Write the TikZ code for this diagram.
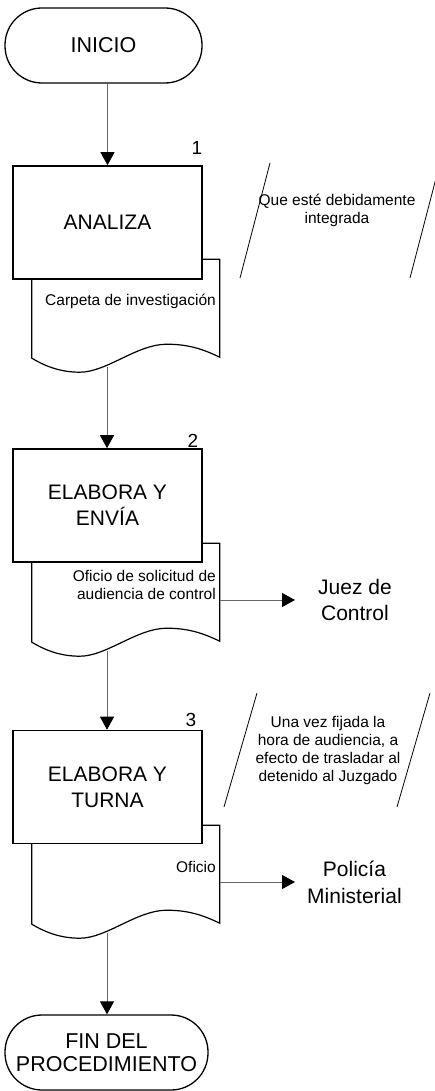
\documentclass[tikz,border=0pt]{standalone}
\usepackage{fontspec}
\setmainfont{Liberation Sans}
\usetikzlibrary{arrows.meta}

\tikzset{
  terminal/.style={draw, line width=1.3pt, rectangle, rounded corners=37pt,
    minimum width=#1, minimum height=75pt, inner sep=0pt, align=center,
    font=\fontsize{21.5}{23}\selectfont},
  terminal/.default=197pt,
  proceso/.style={draw, line width=1.6pt, fill=white, minimum width=189pt,
    minimum height=113pt, inner sep=0pt, align=center,
    font=\fontsize{21}{26}\selectfont},
  docnodo/.style={minimum width=188pt, minimum height=114pt, inner sep=0pt},
  documento/.style={draw, line width=1.2pt, fill=white},
  textodoc/.style={align=right, inner sep=0pt, font=\fontsize{15.5}{18}\selectfont},
  nota/.style={align=center, inner sep=0pt, font=\fontsize{15.5}{18}\selectfont},
  numero/.style={inner sep=0pt, font=\fontsize{19}{19}\selectfont},
  destino/.style={align=center, inner ysep=0pt, font=\fontsize{21}{26}\selectfont},
  flecha/.style={draw=black!60, line width=0.9pt,
    -{Triangle[width=14pt,length=13pt,color=black,fill=black]}},
  corchete/.style={draw, line width=0.8pt}
}

% outline of a document shape, from its node
\newcommand{\formadoc}[1]{%
  \begin{scope}[shift={(#1.south west)}]
    \draw[documento] (0,-15) -- (0,-114) -- (188,-114) -- (188,-16)
      .. controls (175,-22) and (160,-29) .. (135,-29)
      .. controls (105,-29) and (75,-1) .. (48,-1)
      .. controls (30,-1) and (15,-6) .. (0,-15) -- cycle;
  \end{scope}}

\begin{document}
\begin{tikzpicture}[x=1pt, y=-1pt]
  \useasboundingbox (0,0) rectangle (434,1091);

  % documents (behind the boxes)
  \node[docnodo] (doc1) at (126,316) {};
  \node[docnodo] (doc2) at (126,600) {};
  \node[docnodo] (doc3) at (126,882) {};
  \formadoc{doc1}
  \formadoc{doc2}
  \formadoc{doc3}
  \coordinate (d1b) at ([xshift=-19pt,yshift=6pt]doc1.south);
  \coordinate (d2b) at ([xshift=-19pt,yshift=6pt]doc2.south);
  \coordinate (d3b) at ([xshift=-19pt,yshift=6pt]doc3.south);

  % steps
  \node[terminal] (inicio) at (103.5,45.5) {INICIO};
  \node[proceso] (analiza) at (107.5,222.5) {ANALIZA};
  \node[proceso] (elabora1) at (107.5,505.5) {ELABORA Y\\ENVÍA};
  \node[proceso] (elabora2) at (107.5,787) {ELABORA Y\\TURNA};
  \node[terminal=203pt] (fin) at (106.5,1052.5) {FIN DEL\\PROCEDIMIENTO};

  \node[numero] (n1) at (197,148) {1};
  \node[numero] (n2) at (193,441) {2};
  \node[numero] (n3) at (191,720) {3};

  % texts on the documents
  \node[textodoc, anchor=east] (t1) at (216,301) {Carpeta de investigación};
  \node[textodoc, anchor=east] (t2) at (216,585) {Oficio de solicitud de\\audiencia de control};
  \node[textodoc, anchor=east] (t3) at (216,867) {Oficio};

  % receivers
  \node[destino, anchor=west, inner xsep=23pt] (juez) at (295,600) {Juez de\\Control};
  \node[destino, anchor=west, inner xsep=12pt, font=\fontsize{21}{27}\selectfont]
    (policia) at (295,882) {Policía\\Ministerial};

  % notes
  \node[nota] (nota1) at (337,210.5) {Que esté debidamente\\integrada};
  \draw[corchete] (270,163) -- (240,278);
  \draw[corchete] (440,163) -- (410,278);
  \node[nota] (nota2) at (328,750) {Una vez fijada la\\hora de audiencia, a\\efecto de trasladar al\\detenido al Juzgado};
  \draw[corchete] (257,693) -- (224,807);
  \draw[corchete] (430,693) -- (397,807);

  % connectors
  \draw[flecha] (inicio.south -| analiza.north) -- (analiza.north);
  \draw[flecha] (d1b) -- (elabora1.north -| d1b);
  \draw[flecha] (d2b) -- (elabora2.north -| d2b);
  \draw[flecha] (d3b) -- (fin.north -| d3b);
  \draw[flecha] (doc2.east) -- (juez.west);
  \draw[flecha] (doc3.east) -- (policia.west);
\end{tikzpicture}
\end{document}
